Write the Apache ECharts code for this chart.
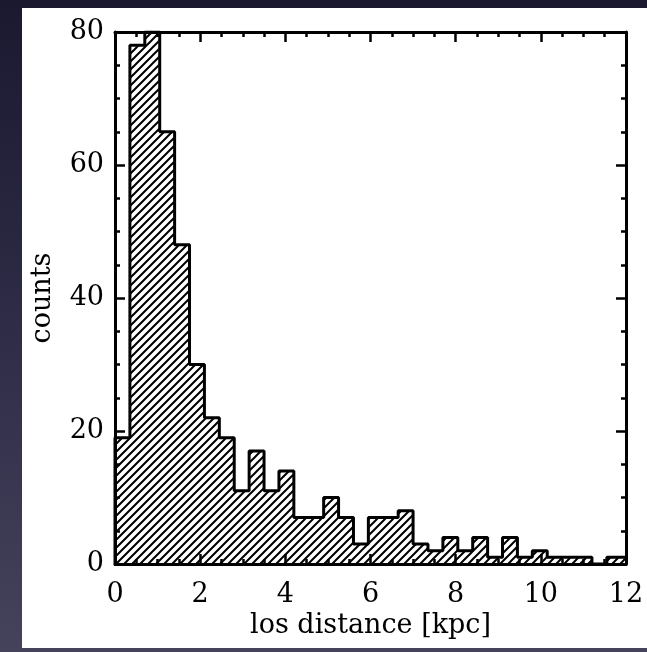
<!DOCTYPE html>
<html>
<head>
<meta charset="utf-8">
<script src="https://cdn.jsdelivr.net/npm/echarts@6/dist/echarts.min.js"></script>
<style>
  html, body { margin: 0; padding: 0; }
  body {
    width: 647px; height: 652px; overflow: hidden; position: relative;
    background: linear-gradient(to bottom, #1a1930 0%, #2e2c46 50%, #45435c 100%);
  }
  #panel { position: absolute; left: 22px; top: 8px; width: 625px; height: 640px; background: #fff; }
  #main { position: absolute; left: 0; top: 0; width: 647px; height: 652px; }
</style>
</head>
<body>
<div id="panel"></div>
<div id="main"></div>
<script>
// histogram: los distance, bin width 0.35 kpc starting at 0
const binStart = 0;
const binWidth = 0.35;
const counts = [19, 78, 80, 65, 48, 30, 22, 19, 11, 17, 11, 14, 7, 7, 10, 7, 3, 7,
                7, 8, 3, 2, 4, 2, 4, 1, 4, 1, 2, 1, 1, 1, 0, 1, 1];
const xTicks = [0, 2, 4, 6, 8, 10, 12];
const yTicks = [0, 20, 40, 60, 80];

// step outline points: one per bin left edge, plus closing edge
const stepData = [[binStart, 0]];
counts.forEach((c, i) => {
  stepData.push([binStart + i * binWidth, c]);
});
stepData.push([binStart + counts.length * binWidth, counts[counts.length - 1]]);
stepData.push([binStart + counts.length * binWidth, 0]);

// hatch pattern ////
function makeHatch() {
  const s = 8;
  const cv = document.createElement('canvas');
  cv.width = s; cv.height = s;
  const ctx = cv.getContext('2d');
  ctx.strokeStyle = '#000';
  ctx.lineWidth = 2;
  ctx.beginPath();
  ctx.moveTo(-1, s + 1); ctx.lineTo(s + 1, -1);
  ctx.moveTo(-2, 2); ctx.lineTo(2, -2);
  ctx.moveTo(s - 2, s + 2); ctx.lineTo(s + 2, s - 2);
  ctx.stroke();
  return cv;
}

const font = 'DejaVu Serif';
const axisLine = { show: true, onZero: false, lineStyle: { color: '#000', width: 3 } };
const tick = { show: true, inside: true, length: 10, lineStyle: { color: '#000', width: 2.5 } };
const minor = { show: true, splitNumber: 4, length: 5, lineStyle: { color: '#000', width: 2.5 } };

const chart = echarts.init(document.getElementById('main'), null, { renderer: 'canvas' });

const option = {
  animation: false,
  backgroundColor: 'transparent',
  grid: { left: 115, top: 32, right: 21, bottom: 88 },
  xAxis: [{
    type: 'value', min: xTicks[0], max: xTicks[xTicks.length - 1], interval: 2,
    name: 'los distance [kpc]', nameLocation: 'middle', nameGap: 41,
    nameTextStyle: { fontFamily: font, fontSize: 27, color: '#000' },
    axisLine: axisLine, axisTick: tick, minorTick: minor,
    splitLine: { show: false },
    axisLabel: { fontFamily: font, fontSize: 27, color: '#000', margin: 17 }
  }, {
    type: 'value', position: 'top', min: xTicks[0], max: xTicks[xTicks.length - 1], interval: 2,
    axisLine: axisLine, axisTick: tick, minorTick: minor,
    splitLine: { show: false }, axisLabel: { show: false }
  }],
  yAxis: [{
    type: 'value', min: yTicks[0], max: yTicks[yTicks.length - 1], interval: 20,
    name: 'counts', nameLocation: 'middle', nameGap: 59, nameRotate: 90,
    nameTextStyle: { fontFamily: font, fontSize: 27, color: '#000' },
    axisLine: axisLine, axisTick: tick, minorTick: minor,
    splitLine: { show: false },
    axisLabel: { fontFamily: font, fontSize: 27, color: '#000', margin: 11 }
  }, {
    type: 'value', position: 'right', min: yTicks[0], max: yTicks[yTicks.length - 1], interval: 20,
    axisLine: axisLine, axisTick: tick, minorTick: minor,
    splitLine: { show: false }, axisLabel: { show: false }
  }],
  series: [{
    type: 'line',
    step: 'end',
    data: stepData,
    symbol: 'none',
    clip: true,
    lineStyle: { color: '#000', width: 3 },
    areaStyle: { color: { image: makeHatch(), repeat: 'repeat' }, opacity: 1 },
    z: 1
  }]
};

chart.setOption(option);
</script>
</body>
</html>
